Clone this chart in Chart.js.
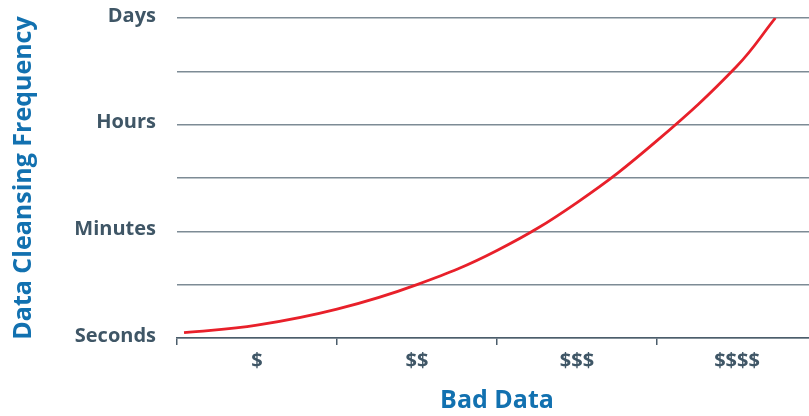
<!DOCTYPE html>
<html>
<head>
<meta charset="utf-8">
<script src="https://cdn.jsdelivr.net/npm/chart.js@4/dist/chart.umd.min.js"></script>
<style>
  html, body { margin: 0; padding: 0; background: #ffffff; overflow: hidden; width: 809px; height: 416px; }
  canvas { display: block; }
</style>
</head>
<body>
<canvas id="c" width="817" height="416"></canvas>
<script>
// Categories along the x axis
const categories = ['$', '$$', '$$$', '$$$$'];
// Y tick labels (one per half step, 0..3)
const yTickLabels = ['Seconds', '', 'Minutes', '', 'Hours', '', 'Days'];
// Curve points: x in category units (0 = left edge of "$"), y in level units (0 = Seconds, 3 = Days)
const curveX = [0.044, 0.5, 1.0, 1.5, 2.0, 2.5, 3.0, 3.5, 3.74];
const curveY = [0.05, 0.12, 0.27, 0.50, 0.82, 1.27, 1.85, 2.55, 3.0];

const points = curveX.map((x, i) => ({ x: x, y: curveY[i] }));

const tickColor = '#3f5666';
const titleColor = '#1271b0';

new Chart(document.getElementById('c'), {
  type: 'line',
  data: {
    labels: categories,
    datasets: [{
      data: points,
      xAxisID: 'xv',
      yAxisID: 'y',
      borderColor: '#e8202a',
      borderWidth: 2.8,
      pointRadius: 0,
      fill: false,
      tension: 0.4
    }]
  },
  options: {
    responsive: false,
    animation: false,
    devicePixelRatio: 1,
    layout: { padding: { top: 18, right: 0, bottom: 0, left: 0 } },
    plugins: { legend: { display: false }, tooltip: { enabled: false } },
    scales: {
      x: {
        type: 'category',
        position: 'bottom',
        offset: true,
        grid: { offset: true, drawOnChartArea: false, drawTicks: true, tickLength: 7, color: '#4b5d6b', lineWidth: 1.5 },
        border: { display: true, color: '#4b5d6b', width: 1.5 },
        ticks: { color: tickColor, font: { family: 'Open Sans', size: 20, weight: 'bold' }, padding: 4, maxRotation: 0 },
        title: { display: true, text: 'Bad Data', color: titleColor, font: { family: 'Open Sans', size: 25, weight: 'bold' }, padding: { top: 0, bottom: 0 } },
        afterFit: (s) => { s.height = 78; s.paddingLeft = 0; s.paddingRight = 0; }
      },
      xv: {
        type: 'linear',
        display: false,
        min: 0,
        max: 4
      },
      y: {
        type: 'linear',
        position: 'left',
        min: 0,
        max: 3,
        ticks: {
          stepSize: 0.5,
          padding: 21,
          labelOffset: -2,
          color: tickColor,
          font: { family: 'Open Sans', size: 20, weight: 'bold' },
          callback: (v, i) => yTickLabels[i]
        },
        grid: { drawTicks: false, color: '#7d8b95', lineWidth: 1.5 },
        border: { display: false },
        title: { display: true, text: 'Data Cleansing Frequency', color: titleColor, font: { family: 'Open Sans', size: 25, weight: 'bold' }, padding: { top: 9, bottom: 0 } },
        afterFit: (s) => { s.width = 177; s.paddingTop = 0; s.paddingBottom = 0; }
      }
    }
  }
});
</script>
</body>
</html>
